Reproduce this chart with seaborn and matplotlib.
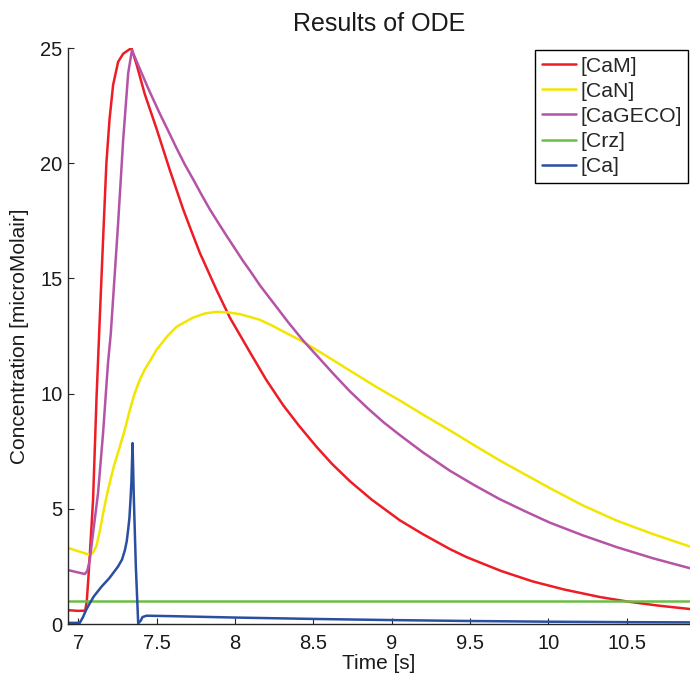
import numpy as np
import pandas as pd
import matplotlib
matplotlib.use("Agg")
import matplotlib.pyplot as plt
import seaborn as sns

# ---------------- data ----------------
cam_t = [6.935, 7.0, 7.045, 7.055, 7.065, 7.075, 7.095, 7.117, 7.138, 7.159, 7.18, 7.2,
         7.223, 7.255, 7.287, 7.34, 7.372, 7.425, 7.5, 7.585, 7.67, 7.72, 7.777, 7.83,
         7.883, 7.968, 8.096, 8.2, 8.308, 8.41, 8.52, 8.62, 8.734, 8.873, 9.053, 9.2,
         9.373, 9.48, 9.7, 9.9, 10.1, 10.33, 10.51, 10.7, 10.905]
cam_v = [0.6, 0.57, 0.58, 1.0, 2.0, 3.1, 5.4, 9.8, 13.3, 16.7, 20.0, 21.9,
         23.4, 24.4, 24.75, 25.0, 24.3, 23.0, 21.5, 19.7, 18.0, 17.1, 16.1, 15.3,
         14.5, 13.3, 11.8, 10.6, 9.5, 8.6, 7.7, 6.95, 6.2, 5.4, 4.5, 3.9,
         3.25, 2.9, 2.3, 1.85, 1.5, 1.17, 0.97, 0.8, 0.65]

can_t = [6.935, 7.074, 7.095, 7.117, 7.14, 7.159, 7.18, 7.2, 7.23, 7.266, 7.3, 7.33,
         7.36, 7.393, 7.425, 7.457, 7.5, 7.57, 7.628, 7.68, 7.734, 7.81, 7.883, 7.96,
         8.03, 8.096, 8.16, 8.23, 8.308, 8.436, 8.58, 8.734, 8.9, 9.053, 9.21, 9.373,
         9.53, 9.69, 9.85, 10.01, 10.22, 10.44, 10.67, 10.905]
can_v = [3.3, 3.0, 3.1, 3.4, 4.1, 4.8, 5.5, 6.1, 6.9, 7.7, 8.5, 9.3,
         10.0, 10.6, 11.05, 11.4, 11.9, 12.5, 12.9, 13.1, 13.3, 13.48, 13.55, 13.52,
         13.45, 13.33, 13.2, 12.98, 12.7, 12.25, 11.65, 11.0, 10.3, 9.7, 9.05, 8.4,
         7.75, 7.1, 6.5, 5.9, 5.15, 4.48, 3.9, 3.36]

geco_t = [6.935, 7.042, 7.058, 7.074, 7.095, 7.127, 7.159, 7.19, 7.208, 7.255, 7.287,
          7.319, 7.343, 7.393, 7.45, 7.521, 7.575, 7.628, 7.68, 7.734, 7.79, 7.84,
          7.9, 7.947, 8.0, 8.053, 8.1, 8.16, 8.25, 8.34, 8.436, 8.53, 8.63, 8.734,
          8.85, 8.95, 9.053, 9.2, 9.373, 9.53, 9.69, 9.85, 10.01, 10.22, 10.44,
          10.67, 10.905]
geco_v = [2.34, 2.17, 2.3, 2.78, 3.95, 5.7, 8.3, 11.3, 12.6, 17.4, 21.0,
          23.9, 24.9, 24.1, 23.2, 22.15, 21.4, 20.65, 19.95, 19.3, 18.6, 18.0,
          17.35, 16.85, 16.3, 15.75, 15.3, 14.7, 13.9, 13.1, 12.3, 11.6, 10.85, 10.1,
          9.35, 8.75, 8.2, 7.45, 6.65, 6.02, 5.42, 4.9, 4.4, 3.85, 3.33,
          2.85, 2.42]

crz_t = [6.935, 8.0, 9.0, 10.0, 10.905]
crz_v = [1.0, 1.0, 1.0, 1.0, 1.0]

ca_t = [6.935, 7.01, 7.031, 7.05, 7.074, 7.1, 7.149, 7.2, 7.255, 7.28, 7.298, 7.31,
        7.319, 7.327, 7.334, 7.34, 7.347, 7.355, 7.368, 7.383, 7.40, 7.41, 7.436,
        7.6, 8.0, 8.5, 9.0, 9.5, 10.0, 10.5, 10.905]
ca_v = [0.05, 0.05, 0.3, 0.6, 0.9, 1.2, 1.62, 2.0, 2.5, 2.8, 3.2, 3.6,
        4.1, 4.6, 5.4, 6.2, 7.85, 5.5, 2.5, 0.03, 0.15, 0.3, 0.36,
        0.34, 0.28, 0.22, 0.17, 0.13, 0.1, 0.08, 0.07]

series_names = ["[CaM]", "[CaN]", "[CaGECO]", "[Crz]", "[Ca]"]
series_colors = ["#ee1c25", "#f2e600", "#b553a6", "#6cbd45", "#2a4fa0"]
series_data = [(cam_t, cam_v), (can_t, can_v), (geco_t, geco_v), (crz_t, crz_v), (ca_t, ca_v)]

x_ticks = [7, 7.5, 8, 8.5, 9, 9.5, 10, 10.5]
x_ticklabels = ["7", "7.5", "8", "8.5", "9", "9.5", "10", "10.5"]
y_ticks = [0, 5, 10, 15, 20, 25]
y_ticklabels = ["0", "5", "10", "15", "20", "25"]

# ---------------- plot ----------------
sns.set_style("ticks")
plt.rcParams["font.family"] = ["Liberation Sans", "DejaVu Sans"]

fig = plt.figure(figsize=(6.9, 6.79), dpi=100)
ax = fig.add_axes([68 / 690, 55 / 679, 622 / 690, 576 / 679])

for name, color, (t, v) in zip(series_names, series_colors, series_data):
    df = pd.DataFrame({"t": t, "v": v})
    sns.lineplot(data=df, x="t", y="v", ax=ax, color=color, linewidth=1.8,
                 label=name, estimator=None, sort=False)

ax.set_xlim(6.935, 10.905)
ax.set_ylim(0, 25)
ax.set_xticks(x_ticks)
ax.set_xticklabels(x_ticklabels)
ax.set_yticks(y_ticks)
ax.set_yticklabels(y_ticklabels)
ax.tick_params(direction="in", length=4, width=0.8, labelsize=14.5, colors="#262626",
               labelcolor="#1a1a1a")
ax.tick_params(axis="x", pad=7)
ax.tick_params(axis="y", pad=4)

sns.despine(ax=ax)
for s in ("left", "bottom"):
    ax.spines[s].set_color("#262626")
    ax.spines[s].set_linewidth(1.0)

ax.set_xlabel("Time [s]", fontsize=15, labelpad=1, color="#1a1a1a")
ax.set_ylabel("Concentration [microMolair]", fontsize=15, labelpad=8, color="#1a1a1a")
ax.set_title("Results of ODE", fontsize=18, pad=12.5, color="#1a1a1a")

leg = ax.legend(loc="upper right", bbox_to_anchor=(1.0, 1.0), borderaxespad=0.1,
                fontsize=15.3, frameon=True, fancybox=False, framealpha=1,
                edgecolor="black", handlelength=1.6, handletextpad=0.2,
                borderpad=0.3, labelspacing=0.29)
leg.get_frame().set_linewidth(1.0)
for line in leg.get_lines():
    line.set_linewidth(1.8)

fig.savefig("out.png", dpi=100)
